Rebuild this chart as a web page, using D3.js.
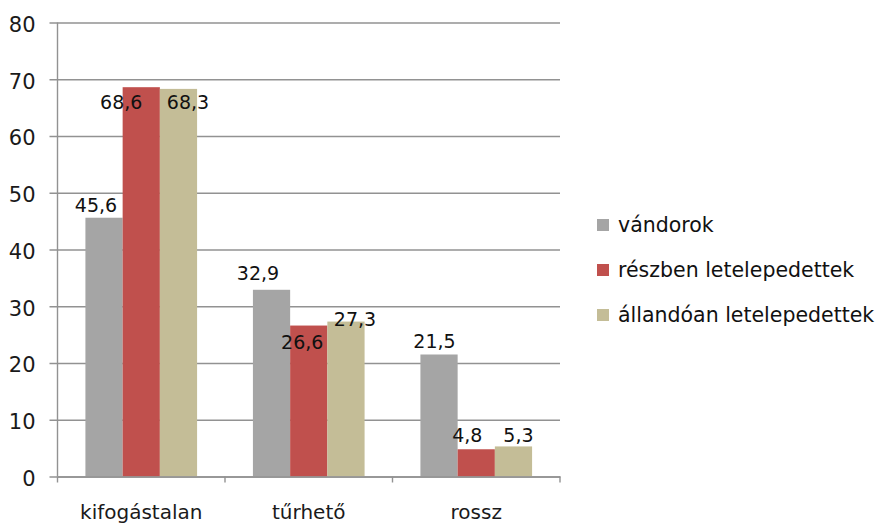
<!DOCTYPE html>
<html>
<head>
<meta charset="utf-8">
<script src="https://cdn.jsdelivr.net/npm/d3@7"></script>
<style>
  body { margin: 0; background: #fff; }
  text { font-family: "DejaVu Sans", sans-serif; fill: #111; }
</style>
</head>
<body>
<svg id="chart"></svg>
<script>
var categories = ["kifogástalan", "tűrhető", "rossz"];
var series = ["vándorok", "részben letelepedettek", "állandóan letelepedettek"];
var vandorok = [45.6, 32.9, 21.5];
var reszben = [68.6, 26.6, 4.8];
var allandoan = [68.3, 27.3, 5.3];
var yTicks = [0, 10, 20, 30, 40, 50, 60, 70, 80];
var colors = ["#a5a5a5", "#c0504d", "#c4bd97"];

// label nudges (px) relative to bar centre / bar top, mimicking the hand placed excel labels
var labelDx = [[-8, -13.5, -4.5], [-20, -6.5, -9], [9.5, 9, 5]];
var labelDy = [[-13, -17, -13.5], [15, 16.5, -14], [13.5, -2.5, -11.5]];

var width = 878, height = 523;
var margin = {top: 22.5, left: 57.5, right: 318, bottom: 46.5};
var innerWidth = width - margin.left - margin.right;
var innerHeight = height - margin.top - margin.bottom;

var values = [vandorok, reszben, allandoan];
var data = [];
series.forEach(function(s, si){
  categories.forEach(function(c, ci){
    data.push({series: s, si: si, cat: c, ci: ci, value: values[si][ci]});
  });
});

var svg = d3.select("#chart").attr("width", width).attr("height", height);
var g = svg.append("g").attr("transform", "translate(" + margin.left + "," + margin.top + ")");

var xScale = d3.scaleBand().domain(categories).range([0, innerWidth]).padding(0);
var xSub = d3.scaleBand().domain(series).range([0, xScale.bandwidth()]).paddingInner(0).paddingOuter(0.75);
var yScale = d3.scaleLinear().domain([0, 80]).range([innerHeight, 0]);

// gridlines + y labels
var yAxis = d3.axisLeft(yScale).tickValues(yTicks).tickSize(-innerWidth).tickPadding(22).tickFormat(d3.format("d"));
var yg = g.append("g").attr("class", "axis axis-y").call(yAxis);
yg.select(".domain").remove();
yg.selectAll(".tick line").attr("x1", -8).attr("stroke", "#929292").attr("stroke-width", 1.4);
yg.selectAll(".tick text").attr("dy", "0.42em").style("font-size", "21px").style("fill", "#1a1a1a");

// bars
g.selectAll(".bar")
  .data(data).enter()
  .append("rect")
    .attr("class", "bar")
    .attr("x", function(d){ return xScale(d.cat) + xSub(d.series); })
    .attr("y", function(d){ return yScale(d.value); })
    .attr("width", xSub.bandwidth())
    .attr("height", function(d){ return innerHeight - yScale(d.value); })
    .attr("fill", function(d){ return colors[d.si]; });

// axes lines
g.append("line").attr("x1", 0).attr("x2", 0).attr("y1", 0).attr("y2", innerHeight)
  .attr("stroke", "#929292").attr("stroke-width", 1.4);

var xAxis = d3.axisBottom(xScale).tickSize(0).tickPadding(28);
var xg = g.append("g").attr("class", "axis axis-x")
  .attr("transform", "translate(0," + innerHeight + ")")
  .call(xAxis);
xg.select(".domain").attr("stroke", "#929292").attr("stroke-width", 1.4);
xg.selectAll(".tick text").style("font-size", "20px").style("fill", "#1a1a1a");
xg.selectAll(".sep")
  .data(d3.range(categories.length + 1)).enter()
  .append("line")
    .attr("class", "sep")
    .attr("x1", function(i){ return i * xScale.step(); })
    .attr("x2", function(i){ return i * xScale.step(); })
    .attr("y1", 0).attr("y2", 6)
    .attr("stroke", "#929292").attr("stroke-width", 1.4);

// value labels
g.selectAll(".vlabel")
  .data(data).enter()
  .append("text")
    .attr("class", "vlabel")
    .attr("x", function(d){ return xScale(d.cat) + xSub(d.series) + xSub.bandwidth() / 2 + labelDx[d.si][d.ci]; })
    .attr("y", function(d){ return yScale(d.value) + labelDy[d.si][d.ci]; })
    .attr("dy", "0.36em")
    .attr("text-anchor", "middle")
    .style("font-size", "19px")
    .text(function(d){ return d3.format(".1f")(d.value).replace(".", ","); });

// legend
var legend = svg.append("g").attr("transform", "translate(597,225)");
var items = legend.selectAll(".item")
  .data(series).enter()
  .append("g")
    .attr("class", "item")
    .attr("transform", function(d, i){ return "translate(0," + (i * 45) + ")"; });
items.append("rect")
  .attr("x", 0).attr("y", -6).attr("width", 12).attr("height", 12)
  .attr("fill", function(d, i){ return colors[i]; });
items.append("text")
  .attr("x", 21).attr("dy", "0.36em")
  .style("font-size", "20.5px")
  .text(function(d){ return d; });
</script>
</body>
</html>
